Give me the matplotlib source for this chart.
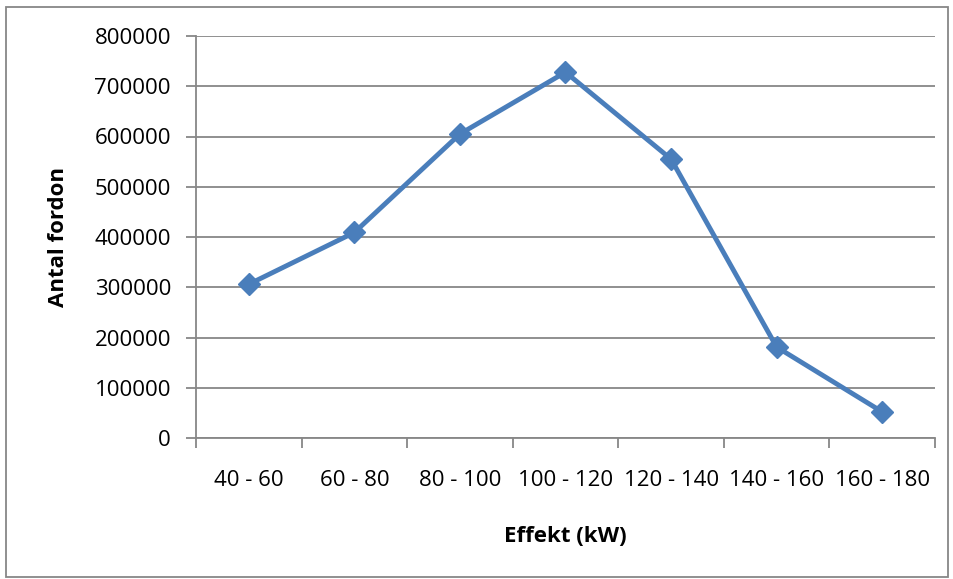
import matplotlib
matplotlib.use("Agg")
import matplotlib.pyplot as plt
import matplotlib.patches as mpatches
import numpy as np

categories = ["40 - 60", "60 - 80", "80 - 100", "100 - 120", "120 - 140", "140 - 160", "160 - 180"]
antal = [306000, 409000, 605000, 728000, 555000, 181000, 52000]
yticks = [0, 100000, 200000, 300000, 400000, 500000, 600000, 700000, 800000]

plt.rcParams["font.family"] = ["Open Sans", "DejaVu Sans"]

fig = plt.figure(figsize=(9.54, 5.79), dpi=100)
ax = fig.add_axes([196 / 954, 1 - 438 / 579, (935 - 196) / 954, (438 - 36) / 579])

x = np.arange(len(categories))
ax.plot(x, antal, color="#4A7EBB", linewidth=3.5, marker="D", markersize=11,
        markerfacecolor="#4A7EBB", markeredgecolor="#4A7EBB", zorder=3)

ax.set_xlim(-0.5, len(categories) - 0.5)
ax.set_ylim(0, 800000)
ax.set_yticks(yticks)
ax.set_yticklabels([str(v) for v in yticks], fontsize=16)

# ticks on the category boundaries, labels centred in each slot
ax.set_xticks(np.arange(len(categories) + 1) - 0.5)
ax.set_xticklabels([])
ax.set_xticks(x, minor=True)
ax.set_xticklabels(categories, minor=True, fontsize=16)
ax.tick_params(axis="x", which="minor", length=0, pad=23)
ax.tick_params(axis="x", which="major", length=7, width=1.3, color="#878787", direction="out")
ax.tick_params(axis="y", length=7, width=1.3, color="#878787", direction="out", pad=11)

ax.yaxis.grid(True, color="#878787", linewidth=1.3)
ax.set_axisbelow(True)
for s in ["top", "right"]:
    ax.spines[s].set_visible(False)
for s in ["left", "bottom"]:
    ax.spines[s].set_color("#878787")
    ax.spines[s].set_linewidth(1.3)

ax.set_xlabel("Effekt (kW)", fontsize=16, fontweight="bold", labelpad=25)
ax.set_ylabel("Antal fordon", fontsize=16, fontweight="bold", labelpad=18)

# outer chart border
fig.patches.append(mpatches.Rectangle((6 / 954, 2 / 579), 942 / 954, 570 / 579,
                                      transform=fig.transFigure, fill=False,
                                      edgecolor="#878787", linewidth=1.3))

fig.savefig("out.png", dpi=100)
